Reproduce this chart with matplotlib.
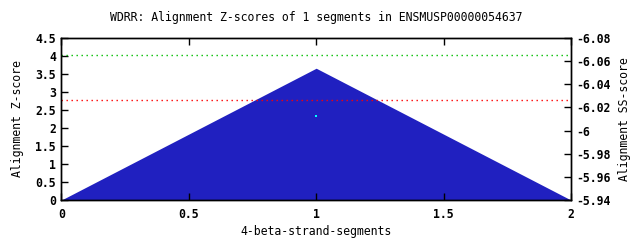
import numpy as np
import matplotlib
matplotlib.use('Agg')
import matplotlib.pyplot as plt

# donnees
seg_x = [0, 1, 2]
zscore = [0, 3.66, 0]
ss_point_x = [1]
ss_point_y = [2.325]
green_level = 4.03
red_level = 2.77

xticks = [0, 0.5, 1, 1.5, 2]
xtick_labels = ['0', '0.5', '1', '1.5', '2']
yticks = [0, 0.5, 1, 1.5, 2, 2.5, 3, 3.5, 4, 4.5]
ytick_labels = ['0', '0.5', '1', '1.5', '2', '2.5', '3', '3.5', '4', '4.5']
y2ticks = [-6.08, -6.06, -6.04, -6.02, -6.0, -5.98, -5.96, -5.94]
y2tick_labels = ['-6.08', '-6.06', '-6.04', '-6.02', '-6', '-5.98', '-5.96', '-5.94']

plt.rcParams['font.family'] = ['DejaVu Sans Mono']
plt.rcParams['font.weight'] = 'bold'
fs = 8.3

fig = plt.figure(figsize=(6.4, 2.4), dpi=100)
ax = fig.add_axes([0.096, 0.1667, 0.796, 0.675])

ax.fill_between(seg_x, zscore, 0, color='#2020c0', linewidth=0)
ax.axhline(green_level, color='#00c000', linestyle=(0, (1, 2.6)), linewidth=1)
ax.axhline(red_level, color='#ff0000', linestyle=(0, (1, 2.6)), linewidth=1)
ax.plot(ss_point_x, ss_point_y, 's', color='#00ffff', markersize=1.5, markeredgewidth=0)

ax.set_xlim(0, 2)
ax.set_ylim(0, 4.5)
ax.set_xticks(xticks)
ax.set_xticklabels(xtick_labels, fontsize=fs)
ax.set_yticks(yticks)
ax.set_yticklabels(ytick_labels, fontsize=fs)
ax.tick_params(axis='x', direction='in', top=True, length=5, width=1, pad=6)
ax.tick_params(axis='y', direction='in', length=5, width=1, pad=4)

ax2 = ax.twinx()
ax2.set_ylim(-5.94, -6.08)
ax2.set_yticks(y2ticks)
ax2.set_yticklabels(y2tick_labels, fontsize=fs)
ax2.tick_params(axis='y', direction='in', length=5, width=1, pad=4)

for a in (ax, ax2):
    for s in a.spines.values():
        s.set_linewidth(1)

ax.set_xlabel('4-beta-strand-segments', fontsize=fs, labelpad=3)
ax.set_ylabel('Alignment Z-score', fontsize=fs, labelpad=8)
ax2.set_ylabel('Alignment SS-score', fontsize=fs, labelpad=5)
ax.set_title('WDRR: Alignment Z-scores of 1 segments in ENSMUSP00000054637', fontsize=fs, pad=12)

plt.savefig('out.png', dpi=100)
